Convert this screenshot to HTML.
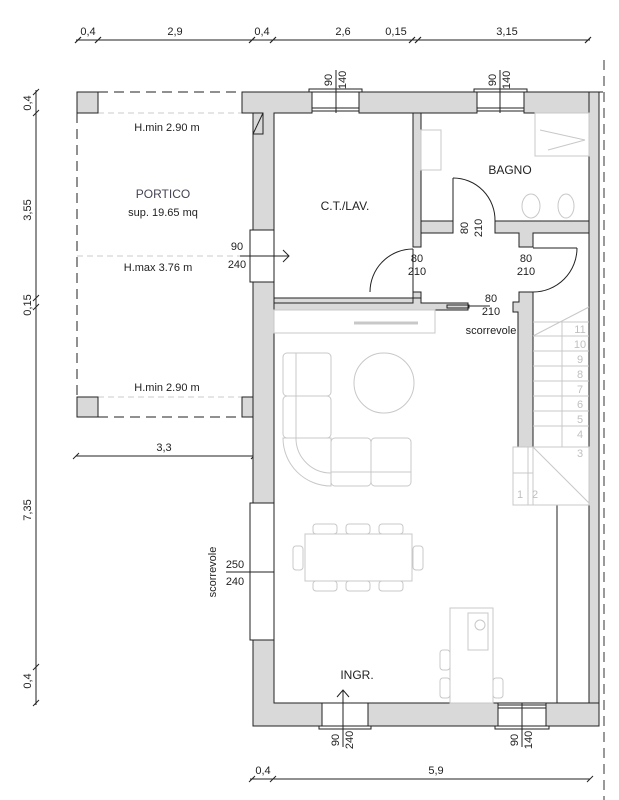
<!DOCTYPE html>
<html><head><meta charset="utf-8"><style>
html,body{margin:0;padding:0;background:#fff;}
svg{display:block;}
text{font-family:"Liberation Sans",sans-serif;fill:#222;}
.n{font-family:"Liberation Sans Narrow","Liberation Sans",sans-serif;}
.g{fill:#c0c0c0;}
</style></head><body>
<svg width="619" height="800" viewBox="0 0 619 800" xmlns="http://www.w3.org/2000/svg">
<g stroke="#222" stroke-width="1" fill="none">
<line x1="76" y1="40" x2="590" y2="40"/>
<g stroke-width="1.2">
<line x1="75" y1="43" x2="81" y2="37"/><line x1="95" y1="43" x2="101" y2="37"/>
<line x1="249" y1="43" x2="255" y2="37"/><line x1="270" y1="43" x2="276" y2="37"/>
<line x1="409" y1="43" x2="415" y2="37"/><line x1="415" y1="43" x2="421" y2="37"/>
<line x1="585" y1="43" x2="591" y2="37"/>
</g>
<line x1="250" y1="779" x2="590" y2="779"/>
<line x1="249" y1="782" x2="255" y2="776"/><line x1="270" y1="782" x2="276" y2="776"/><line x1="587" y1="782" x2="593" y2="776"/>
<line x1="36" y1="90" x2="36" y2="705"/>
<line x1="33" y1="95" x2="39" y2="89"/><line x1="33" y1="116" x2="39" y2="110"/>
<line x1="33" y1="301" x2="39" y2="295"/><line x1="33" y1="310" x2="39" y2="304"/>
<line x1="33" y1="670" x2="39" y2="664"/><line x1="33" y1="706" x2="39" y2="700"/>
<line x1="76" y1="456" x2="254" y2="456"/>
<line x1="73" y1="459" x2="79" y2="453"/><line x1="251" y1="459" x2="257" y2="453"/>
</g>
<text x="88" y="35" font-size="11" text-anchor="middle" class="n">0,4</text>
<text x="175" y="35" font-size="11" text-anchor="middle" class="n">2,9</text>
<text x="262" y="35" font-size="11" text-anchor="middle" class="n">0,4</text>
<text x="343" y="35" font-size="11" text-anchor="middle" class="n">2,6</text>
<text x="396" y="35" font-size="11" text-anchor="middle" class="n">0,15</text>
<text x="507" y="35" font-size="11" text-anchor="middle" class="n">3,15</text>
<text x="263" y="774" font-size="11" text-anchor="middle" class="n">0,4</text>
<text x="436" y="774" font-size="11" text-anchor="middle" class="n">5,9</text>
<text x="164" y="451" font-size="11" text-anchor="middle" class="n">3,3</text>
<g font-size="11" class="n" text-anchor="middle">
<text transform="translate(31,103) rotate(-90)">0,4</text>
<text transform="translate(31,210) rotate(-90)">3,55</text>
<text transform="translate(31,305) rotate(-90)">0,15</text>
<text transform="translate(31,510) rotate(-90)">7,35</text>
<text transform="translate(31,681) rotate(-90)">0,4</text>
</g>
<line x1="604" y1="60" x2="604" y2="800" stroke="#333" stroke-dasharray="10,6"/>

<g stroke="#222" stroke-dasharray="10,6" fill="none">
<line x1="98" y1="92" x2="242" y2="92"/>
<line x1="98" y1="417" x2="242" y2="417"/>
<line x1="77" y1="113" x2="77" y2="397"/>
</g>
<g stroke="#bbb" stroke-dasharray="6,4" fill="none" stroke-width="0.8">
<line x1="98" y1="113" x2="242" y2="113"/>
<line x1="98" y1="397" x2="242" y2="397"/>
<line x1="77" y1="256" x2="253" y2="256"/>
</g>
<g fill="#d9d9d9" stroke="#222">
<rect x="77" y="92" width="21" height="21"/>
<rect x="77" y="397" width="21" height="20"/>
</g>
<text x="167" y="131" font-size="11" text-anchor="middle" class="n">H.min  2.90  m</text>
<text x="163" y="198" font-size="12" text-anchor="middle" style="fill:#445">PORTICO</text>
<text x="163" y="216" font-size="11" text-anchor="middle" class="n">sup.  19.65  mq</text>
<text x="158" y="271" font-size="11" text-anchor="middle" class="n">H.max  3.76  m</text>
<text x="167" y="391" font-size="11" text-anchor="middle" class="n">H.min  2.90  m</text>

<g fill="#d9d9d9" stroke="#222" stroke-width="1">
<path d="M242 92 L312 92 L312 113 L274 113 L274 230 L253 230 L253 113 L242 113 Z"/>
<path d="M359 92 L477 92 L477 113 L359 113 Z"/>
<path d="M524 92 L603 92 L599 92 L599 703 L589 703 L589 113 L524 113 Z"/>
<rect x="589" y="92" width="10" height="634"/>
<path d="M253 282 L274 282 L274 503 L253 503 Z"/>
<rect x="242" y="397" width="11" height="20"/>
<path d="M253 640 L274 640 L274 703 L322 703 L322 726 L253 726 Z"/>
<rect x="368" y="703" width="130" height="23"/>
<rect x="546" y="703" width="53" height="23"/>
<rect x="413" y="113" width="8" height="134"/>
<rect x="413" y="292" width="8" height="10"/>
<rect x="274" y="298" width="139" height="5"/>
<path d="M274 303 L413 303 L413 298 L421 298 L421 303 L468 303 L468 310 L274 310 Z"/>
<rect x="421" y="221" width="32" height="12"/>
<path d="M495 221 L589 221 L589 233 L533 233 L533 247 L519 247 L519 233 L495 233 Z"/>
<path d="M519 292 L533 292 L533 447 L518 447 L518 312 L513 312 L513 302 L519 302 Z"/>
</g>
<g fill="#fff" stroke="#222">
<rect x="309" y="89" width="53" height="3"/>
<rect x="474" y="89" width="53" height="3"/>
<rect x="250" y="230" width="24" height="52"/>
<rect x="250" y="503" width="24" height="137"/>
<rect x="319" y="726" width="52" height="3"/>
<rect x="495" y="726" width="54" height="3"/>
</g>
<g stroke="#222" fill="none">
<line x1="312" y1="108" x2="359" y2="108"/><line x1="312" y1="111" x2="359" y2="111"/>
<line x1="477" y1="108" x2="524" y2="108"/><line x1="477" y1="111" x2="524" y2="111"/>
<line x1="498" y1="705" x2="546" y2="705"/><line x1="498" y1="708" x2="546" y2="708"/>
<line x1="336" y1="70" x2="336" y2="113"/>
<line x1="500" y1="70" x2="500" y2="113"/>
<line x1="343" y1="690" x2="343" y2="747"/>
<line x1="522" y1="703" x2="522" y2="747"/>
<path d="M337 697 L343 690 L349 697"/>
<line x1="240" y1="256" x2="289" y2="256"/>
<path d="M283 250 L289 256 L283 262"/>
<line x1="226" y1="572" x2="274" y2="572"/>
<rect x="253" y="113" width="10" height="21"/><line x1="253" y1="134" x2="263" y2="113"/>
<line x1="413" y1="249" x2="413" y2="292"/>
<path d="M370 292 A43 43 0 0 1 413 249"/>
<line x1="453" y1="178" x2="453" y2="221"/>
<path d="M453 178 A42 42 0 0 1 495 221"/>
<line x1="533" y1="248" x2="577" y2="248"/>
<path d="M577 248 A44 44 0 0 1 533 292"/>
<rect x="447" y="305" width="22" height="3"/>
<line x1="469" y1="306" x2="490" y2="306"/>
<line x1="557" y1="505" x2="557" y2="703"/>
<line x1="274" y1="703" x2="589" y2="703"/>
</g>
<g font-size="11" text-anchor="middle" class="n">
<text x="417" y="262">80</text><text x="417" y="275">210</text>
<text x="526" y="262">80</text><text x="526" y="275">210</text>
<text x="491" y="302">80</text><text x="491" y="315">210</text>
<text x="491" y="334">scorrevole</text>
<text x="237" y="250">90</text><text x="237" y="268">240</text>
<text x="235" y="568">250</text><text x="235" y="585">240</text>
<text transform="translate(468,228) rotate(-90)">80</text>
<text transform="translate(482,228) rotate(-90)">210</text>
<text transform="translate(332,80) rotate(-90)">90</text>
<text transform="translate(346,80) rotate(-90)">140</text>
<text transform="translate(496,80) rotate(-90)">90</text>
<text transform="translate(510,80) rotate(-90)">140</text>
<text transform="translate(339,740) rotate(-90)">90</text>
<text transform="translate(353,740) rotate(-90)">240</text>
<text transform="translate(518,740) rotate(-90)">90</text>
<text transform="translate(532,740) rotate(-90)">140</text>
<text transform="translate(216,572) rotate(-90)">scorrevole</text>
</g>
<text x="345" y="210" font-size="12" text-anchor="middle">C.T./LAV.</text>
<text x="510" y="174" font-size="12" text-anchor="middle">BAGNO</text>
<text x="357" y="679" font-size="12" text-anchor="middle">INGR.</text>

<g stroke="#c8c8c8" fill="none" stroke-width="1">
<rect x="421" y="130" width="20" height="40"/>
<rect x="535" y="113" width="54" height="43"/>
<line x1="540" y1="130" x2="585" y2="140"/><line x1="548" y1="150" x2="585" y2="140"/>
<ellipse cx="531" cy="206" rx="9" ry="12"/><ellipse cx="566" cy="206" rx="8" ry="12"/>
<rect x="274" y="310" width="161" height="23"/>
<line x1="354" y1="323" x2="418" y2="323" stroke-width="3"/>
<rect x="283" y="353" width="48" height="43" rx="4"/>
<rect x="283" y="396" width="48" height="42" rx="4"/>
<line x1="296" y1="353" x2="296" y2="440"/>
<path d="M283 438 A48 48 0 0 0 331 486 L331 438 Z"/>
<path d="M296 440 A35 35 0 0 0 331 473"/>
<rect x="331" y="438" width="40" height="48" rx="4"/>
<rect x="371" y="438" width="40" height="48" rx="4"/>
<line x1="331" y1="472" x2="411" y2="472"/>
<circle cx="384" cy="383" r="30"/>
<rect x="305" y="534" width="107" height="47"/>
<rect x="313" y="524" width="24" height="10" rx="3"/><rect x="346" y="524" width="24" height="10" rx="3"/><rect x="379" y="524" width="24" height="10" rx="3"/>
<rect x="313" y="581" width="24" height="10" rx="3"/><rect x="346" y="581" width="24" height="10" rx="3"/><rect x="379" y="581" width="24" height="10" rx="3"/>
<rect x="293" y="546" width="10" height="24" rx="3"/><rect x="413" y="546" width="10" height="24" rx="3"/>
<rect x="450" y="608" width="43" height="95"/>
<rect x="468" y="613" width="20" height="37"/>
<circle cx="480" cy="625" r="5"/>
<rect x="440" y="650" width="10" height="20" rx="3"/><rect x="440" y="678" width="10" height="20" rx="3"/>
<rect x="493" y="678" width="10" height="20" rx="3"/>
<line x1="533" y1="336" x2="589" y2="307"/>
<line x1="562" y1="322" x2="562" y2="447"/>
<line x1="533" y1="322" x2="589" y2="322"/>
<line x1="533" y1="336" x2="589" y2="336"/><line x1="533" y1="351" x2="589" y2="351"/>
<line x1="533" y1="366" x2="589" y2="366"/><line x1="533" y1="381" x2="589" y2="381"/>
<line x1="533" y1="396" x2="589" y2="396"/><line x1="533" y1="411" x2="589" y2="411"/>
<line x1="533" y1="426" x2="589" y2="426"/>
<rect x="513" y="447" width="76" height="58"/>
<line x1="528" y1="447" x2="528" y2="505"/><line x1="533" y1="447" x2="533" y2="505"/>
<line x1="513" y1="473" x2="533" y2="473"/>
<line x1="533" y1="447" x2="589" y2="503"/>
</g>
<g font-size="11" text-anchor="middle" class="n">
<text x="580" y="333" style="fill:#c0c0c0">11</text><text x="580" y="348" style="fill:#c0c0c0">10</text>
<text x="580" y="363" style="fill:#c0c0c0">9</text><text x="580" y="378" style="fill:#c0c0c0">8</text>
<text x="580" y="393" style="fill:#c0c0c0">7</text><text x="580" y="408" style="fill:#c0c0c0">6</text>
<text x="580" y="423" style="fill:#c0c0c0">5</text><text x="580" y="438" style="fill:#c0c0c0">4</text>
<text x="580" y="457" style="fill:#c0c0c0">3</text>
<text x="520" y="498" style="fill:#c0c0c0">1</text><text x="535" y="498" style="fill:#c0c0c0">2</text>
</g>
</svg>
</body></html>
